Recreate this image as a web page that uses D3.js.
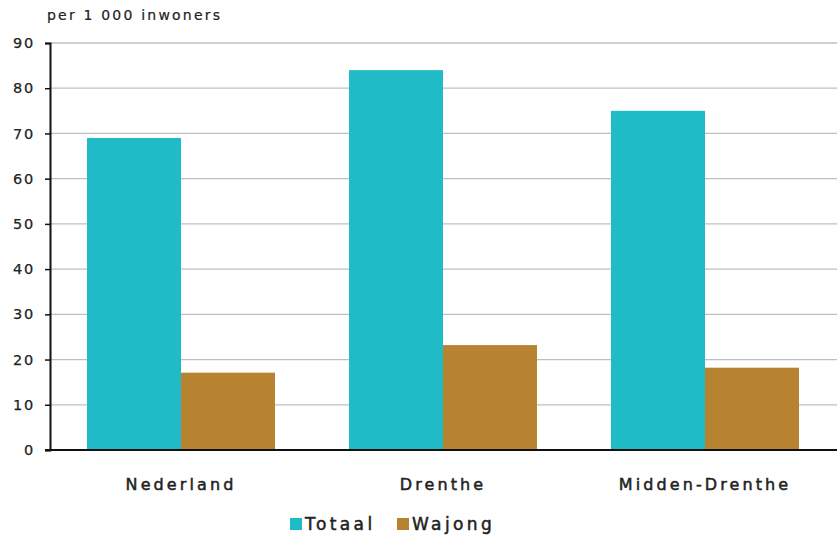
<!DOCTYPE html>
<html><head><meta charset="utf-8">
<script src="https://cdn.jsdelivr.net/npm/d3@7"></script>
<style>body{margin:0;background:#fff}svg{display:block}text{font-family:"DejaVu Sans",Verdana,sans-serif;fill:#222}</style>
</head><body>
<svg id="c" width="837" height="536"></svg>
<script>
const categories = ["Nederland","Drenthe","Midden-Drenthe"];
const seriesNames = ["Totaal","Wajong"];
const totaal = [69, 84, 75];
const wajong = [17.1, 23.2, 18.2];
const yTicks = [0,10,20,30,40,50,60,70,80,90];
const unitLabel = "per 1 000 inwoners";
const colors = ["#1fbbc6","#b88331"];

const svg = d3.select("#c");
const m = {l:50, r:1, t:43, b:86};
const W = 837, H = 536;
const x = d3.scaleBand().domain(categories).range([m.l, W - m.r]).paddingInner(0).paddingOuter(0);
const xs = d3.scaleBand().domain(seriesNames).range([0, x.bandwidth()]).paddingInner(0).paddingOuter(0.394);
const y = d3.scaleLinear().domain([0,90]).range([H - m.b, m.t]);

// gridlines
svg.append("g").selectAll("line").data(yTicks.filter(d=>d>0)).join("line")
  .attr("x1", m.l).attr("x2", W).attr("y1", d=>y(d)).attr("y2", d=>y(d))
  .attr("stroke","#bfbfbf").attr("stroke-width",1.3);

const data = categories.map((c,i)=>({c, vals:[totaal[i], wajong[i]]}));
svg.append("g").selectAll("g").data(data).join("g")
  .attr("transform", d=>`translate(${x(d.c)},0)`)
  .selectAll("rect").data(d=>d.vals.map((v,j)=>({s:seriesNames[j], v, j}))).join("rect")
  .attr("x", d=>xs(d.s)).attr("width", xs.bandwidth())
  .attr("y", d=>y(d.v)).attr("height", d=>y(0)-y(d.v))
  .attr("fill", d=>colors[d.j]);

// y axis
const ya = svg.append("g").attr("transform",`translate(${m.l},0)`)
  .call(d3.axisLeft(y).tickValues(yTicks).tickSize(5).tickPadding(10));
ya.select(".domain").attr("stroke","#111").attr("stroke-width",2);
ya.selectAll(".tick line").attr("stroke","#111").attr("stroke-width",1.5);
ya.selectAll("text").attr("font-size",14.5).attr("letter-spacing","1.8px")
  .attr("font-family","'DejaVu Sans',Verdana,sans-serif").attr("fill","#222")
  .attr("stroke","#222").attr("stroke-width",0.25);

// x axis baseline
svg.append("line").attr("x1", m.l-5).attr("x2", W).attr("y1", y(0)).attr("y2", y(0))
  .attr("stroke","#111").attr("stroke-width",2);

// category labels
svg.append("g").selectAll("text").data(categories).join("text")
  .attr("x", d=>x(d)+x.bandwidth()/2).attr("y", 490)
  .attr("text-anchor","middle").attr("font-size",16).attr("letter-spacing","3.1px")
  .attr("stroke","#222").attr("stroke-width",0.5)
  .text(d=>d);

// unit label
svg.append("text").attr("x",47).attr("y",20).attr("font-size",14).attr("letter-spacing","2.2px")
  .attr("stroke","#222").attr("stroke-width",0.2).text(unitLabel);

// legend
const lg = svg.append("g");
const legendX = [290, 397];
seriesNames.forEach((s,i)=>{
  lg.append("rect").attr("x",legendX[i]).attr("y",518).attr("width",12).attr("height",12).attr("fill",colors[i]);
  lg.append("text").attr("x",legendX[i]+15).attr("y",530).attr("font-size",17).attr("letter-spacing","3.4px")
    .attr("stroke","#222").attr("stroke-width",0.5).text(s);
});
</script>
</body></html>
